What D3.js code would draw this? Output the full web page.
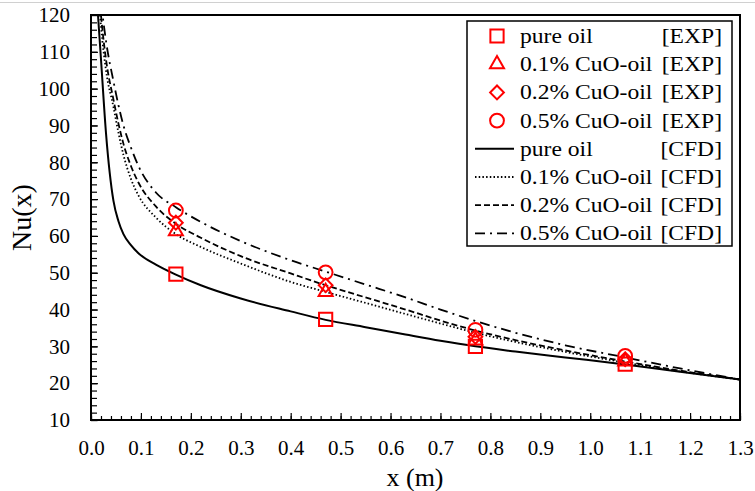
<!DOCTYPE html>
<html>
<head>
<meta charset="utf-8">
<script src="https://cdn.jsdelivr.net/npm/d3@7"></script>
<style>
  body { margin: 0; background: #fff; }
  text { font-family: "Liberation Serif", "Times New Roman", serif; fill: #000; }
</style>
</head>
<body>
<div id="chart"></div>
<script>
// measured points (EXP)
var expX = [0.17, 0.47, 0.77, 1.07];
var expPure = [49.6, 37.3, 30.0, 25.2];
var exp01 = [61.3, 44.8, 31.6, 25.9];
var exp02 = [63.6, 46.6, 32.6, 26.5];
var exp05 = [66.9, 50.1, 34.5, 27.4];

// simulated profiles (CFD)
var cfdX = [0.013, 0.02, 0.03, 0.045, 0.055, 0.065, 0.08, 0.095, 0.13, 0.17, 0.22, 0.3, 0.4, 0.47, 0.55, 0.63, 0.7, 0.77, 0.85, 0.95, 1.07, 1.18, 1.3];
var cfdPure = [122, 108, 88, 69.5, 64, 60.5, 57.5, 55.3, 52.2, 49.5, 46.6, 43.0, 39.5, 37.2, 35.2, 33.2, 31.5, 30.0, 28.6, 27.0, 25.1, 23.1, 21.0];
var cfd01 = [130, 117, 105, 95, 88, 82, 75.5, 71, 65, 60.5, 57.0, 52.5, 47.5, 44.8, 41.8, 38.8, 36.2, 33.7, 31.2, 28.5, 25.6, 23.2, 21.0];
var cfd02 = [132, 120, 108, 97, 90.5, 85, 79, 74.5, 68, 63.3, 59.5, 54.5, 49.8, 46.6, 43.3, 40.0, 37.0, 34.3, 31.7, 28.9, 25.9, 23.4, 21.0];
var cfd05 = [135, 124, 113, 102, 95.5, 90, 84, 79, 71.8, 67.8, 63.8, 58.6, 53.4, 50.3, 46.8, 43.3, 40.0, 36.9, 33.7, 30.3, 27.0, 24.0, 21.0];

var xTicks = [0, 0.1, 0.2, 0.3, 0.4, 0.5, 0.6, 0.7, 0.8, 0.9, 1.0, 1.1, 1.2, 1.3];
var yTicks = [10, 20, 30, 40, 50, 60, 70, 80, 90, 100, 110, 120];

var legendNames = ['pure oil', '0.1% CuO-oil', '0.2% CuO-oil', '0.5% CuO-oil'];

var width = 755;
var height = 491;
var plotL = 91, plotR = 740, plotT = 15, plotB = 420;

var svg = d3.select('#chart')
    .append('svg')
    .attr('width', width)
    .attr('height', height);

// thin border along the top of the image
svg.append('line')
    .attr('x1', 0).attr('x2', width)
    .attr('y1', 2.5).attr('y2', 2.5)
    .attr('stroke', '#d0d0d0').attr('stroke-width', 1);

var x = d3.scaleLinear().domain([0, 1.3]).range([plotL, plotR]);
var y = d3.scaleLinear().domain([10, 120]).range([plotB, plotT]);

// minor ticks
svg.append('g')
    .attr('transform', 'translate(0,' + plotB + ')')
    .call(d3.axisBottom(x).tickValues(d3.range(0, 1.3001, 0.02)).tickSize(-4).tickFormat(''))
    .call(function (g) { g.select('.domain').remove(); });
svg.append('g')
    .attr('transform', 'translate(' + plotL + ',0)')
    .call(d3.axisLeft(y).tickValues(d3.range(10, 120.001, 2)).tickSize(-6).tickFormat(''))
    .call(function (g) { g.select('.domain').remove(); });

// major ticks + labels
var xAxis = svg.append('g')
    .attr('transform', 'translate(0,' + plotB + ')')
    .call(d3.axisBottom(x).tickValues(xTicks).tickSize(-7).tickPadding(20).tickFormat(d3.format('.1f')));
xAxis.select('.domain').remove();
xAxis.selectAll('text').style('font-size', '21px');

var yAxis = svg.append('g')
    .attr('transform', 'translate(' + plotL + ',0)')
    .call(d3.axisLeft(y).tickValues(yTicks).tickSize(-7).tickPadding(21).tickFormat(d3.format('d')));
yAxis.select('.domain').remove();
yAxis.selectAll('text').style('font-size', '21px');

svg.selectAll('.tick line').attr('stroke', '#000').attr('stroke-width', 1.2);

svg.append('text')
    .attr('x', 415).attr('y', 486)
    .attr('text-anchor', 'middle')
    .style('font-size', '26px')
    .text('x (m)');

svg.append('text')
    .attr('transform', 'translate(31,' + ((plotT + plotB) / 2) + ') rotate(-90)')
    .attr('text-anchor', 'middle')
    .style('font-size', '28px')
    .text('Nu(x)');

svg.append('clipPath').attr('id', 'plot-clip')
    .append('rect')
    .attr('x', plotL).attr('y', plotT)
    .attr('width', plotR - plotL).attr('height', plotB - plotT);

// CFD lines
var dashes = ['none', '1.5,2.2', '6,3', '10,5,2,5'];
var cfdSeries = [cfdPure, cfd01, cfd02, cfd05];

var line = d3.line()
    .x(function (d) { return x(d[0]); })
    .y(function (d) { return y(d[1]); })
    .curve(d3.curveMonotoneX);

var plot = svg.append('g').attr('clip-path', 'url(#plot-clip)');

cfdSeries.forEach(function (vals, i) {
    plot.append('path')
        .datum(cfdX.map(function (cx, k) { return [cx, vals[k]]; }))
        .attr('fill', 'none')
        .attr('stroke', '#000')
        .attr('stroke-width', i === 0 ? 2 : 1.8)
        .attr('stroke-dasharray', dashes[i])
        .attr('d', line);
});

// EXP markers (diamond = square turned 45deg)
var symbolTypes = [d3.symbolSquare, d3.symbolTriangle, d3.symbolSquare, d3.symbolCircle];
var symbolSizes = [175, 85, 95, 150];
var symbolRot = [0, 0, 45, 0];
var expSeries = [expPure, exp01, exp02, exp05];

function marker(sel, i) {
    sel.append('path')
        .attr('d', d3.symbol().type(symbolTypes[i]).size(symbolSizes[i])())
        .attr('transform', 'rotate(' + symbolRot[i] + ')')
        .attr('fill', 'none')
        .attr('stroke', '#ff0000')
        .attr('stroke-width', 2);
}

expSeries.forEach(function (vals, i) {
    vals.forEach(function (v, k) {
        var g = svg.append('g')
            .attr('transform', 'translate(' + x(expX[k]) + ',' + y(v) + ')');
        marker(g, i);
    });
});

// frame
svg.append('rect')
    .attr('x', plotL).attr('y', plotT)
    .attr('width', plotR - plotL).attr('height', plotB - plotT)
    .attr('fill', 'none')
    .attr('stroke', '#000')
    .attr('stroke-width', 2);

// legend
var legend = svg.append('g');
legend.append('rect')
    .attr('x', 467).attr('y', 21)
    .attr('width', 265).attr('height', 225)
    .attr('fill', '#fff')
    .attr('stroke', '#000')
    .attr('stroke-width', 1.5);

var rowY = function (r) { return 36 + r * 28.2; };

function legendText(r, name, tag) {
    legend.append('text')
        .attr('transform', 'translate(520,' + (rowY(r) + 7) + ') scale(1.18,1)')
        .style('font-size', '20px')
        .text(name);
    legend.append('text')
        .attr('transform', 'translate(722,' + (rowY(r) + 7) + ') scale(1.18,1)')
        .attr('text-anchor', 'end')
        .style('font-size', '20px')
        .text(tag);
}

legendNames.forEach(function (name, i) {
    var g = legend.append('g').attr('transform', 'translate(497,' + rowY(i) + ')');
    marker(g, i);
    legendText(i, name, '[EXP]');
});

legendNames.forEach(function (name, i) {
    var r = i + 4;
    legend.append('line')
        .attr('x1', 475).attr('x2', 514)
        .attr('y1', rowY(r)).attr('y2', rowY(r))
        .attr('stroke', '#000')
        .attr('stroke-width', i === 0 ? 2 : 1.8)
        .attr('stroke-dasharray', dashes[i]);
    legendText(r, name, '[CFD]');
});
</script>
</body>
</html>
